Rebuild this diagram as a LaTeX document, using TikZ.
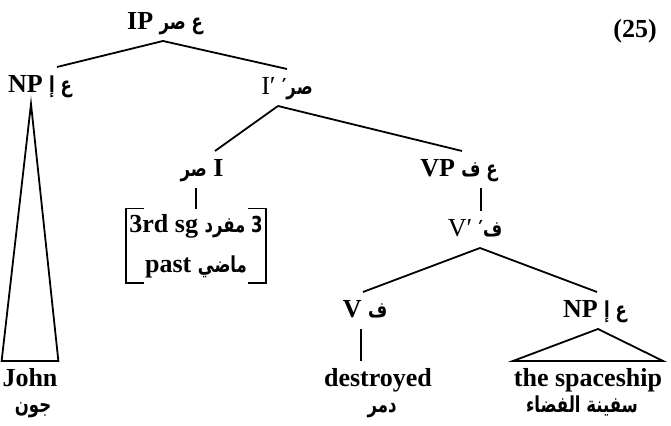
\documentclass[tikz,border=0pt]{standalone}
\usepackage{fontspec}
\setmainfont{Liberation Serif}
\newfontfamily\arabicfont[Script=Arabic, FakeStretch=0.75]{DejaVu Sans}
\TeXXeTstate=1
\newcommand\arb[1]{{\arabicfont\fontsize{11}{13}\selectfont\bfseries\beginR #1\endR}}

\begin{document}
\begin{tikzpicture}[
  x=0.5pt, y=-0.5pt,
  font=\fontsize{13}{15}\selectfont\bfseries,
  line width=0.9pt,
  % category label (Latin + Arabic)
  cat/.style={inner sep=0pt, outer sep=4pt, anchor=base,
              text height=9pt, text depth=1.5pt},
  % leaf word
  leaf/.style={inner sep=0pt, outer ysep=4pt, anchor=base},
  % arabic gloss under a leaf
  gloss/.style={inner sep=0pt, anchor=base},
]
\useasboundingbox (0,0) rectangle (671,426);

%% -- Category labels ------------------------------------------------------
\node[cat] (ip)   at (165,30)  {IP \arb{ع صر}};
\node[cat] (np1)  at (40,93)   {NP \arb{ع إ}};
\node[cat] (ibar) at (287,95)  {\mdseries I′ \arb{صر′}};
\node[cat] (i)    at (202,177) {\arb{صر} I};
\node[cat] (vp)   at (459,177) {VP \arb{ع ف}};
\node[cat] (vbar) at (475,237) {\mdseries V′ \arb{ف′}};
\node[cat] (v)    at (365,318) {V \arb{ف}};
\node[cat] (np2)  at (595,318) {NP \arb{ع إ}};

%% -- Feature bracket -------------------------------------------------------
\node[inner sep=0pt, minimum width=69pt, minimum height=36.5pt,
      align=center, font=\fontsize{13}{20}\selectfont\bfseries]
  (feat) at (196,246) {3rd sg \arb{3 مفرد}\\past \arb{ماضي}};
\draw ([xshift=9pt]feat.north west) -- (feat.north west)
  -- (feat.south west) -- ([xshift=9pt]feat.south west);
\draw ([xshift=-9pt]feat.north east) -- (feat.north east)
  -- (feat.south east) -- ([xshift=-9pt]feat.south east);

%% -- Leaves ----------------------------------------------------------------
\node[leaf]  (john)     at (30,387)  {John};
\node[gloss] (john-ar)  at (33,413)  {\arb{جون}};
\node[leaf]  (destr)    at (378,387) {destroyed};
\node[gloss] (destr-ar) at (382,413) {\arb{دمر}};
\node[leaf]  (ship)     at (588,387) {the spaceship};
\node[gloss] (ship-ar)  at (582,413) {\arb{سفينة الفضاء}};

%% -- Example number --------------------------------------------------------
\node (exnum) at (635,31) {(25)};

%% -- Branches --------------------------------------------------------------
\draw ([xshift=-1pt]ip.south) -- ([xshift=8.5pt]np1.north);
\draw ([xshift=-1pt]ip.south) -- (ibar.north);
\draw ([xshift=-4.5pt]ibar.south) -- ([xshift=6.5pt]i.north);
\draw ([xshift=-4.5pt]ibar.south) -- ([xshift=1.5pt]vp.north);
\draw (feat.north |- i.south) -- (feat.north);
\draw ([xshift=3pt]vbar.north |- vp.south) -- ([xshift=3pt]vbar.north);
\draw ([xshift=2.5pt]vbar.south) -- ([xshift=-1pt]v.north);
\draw ([xshift=2.5pt]vbar.south) -- ([xshift=1pt]np2.north);
\draw ([xshift=-2pt]v.south) -- ([xshift=-2pt]v.south |- destr.north);

%% -- Triangles -------------------------------------------------------------
\draw ([xshift=-4.5pt]np1.south) -- (john.north west) -- (john.north east) -- cycle;
\draw ([xshift=1.5pt]np2.south) -- (ship.north west) -- (ship.north east) -- cycle;

\end{tikzpicture}
\end{document}
